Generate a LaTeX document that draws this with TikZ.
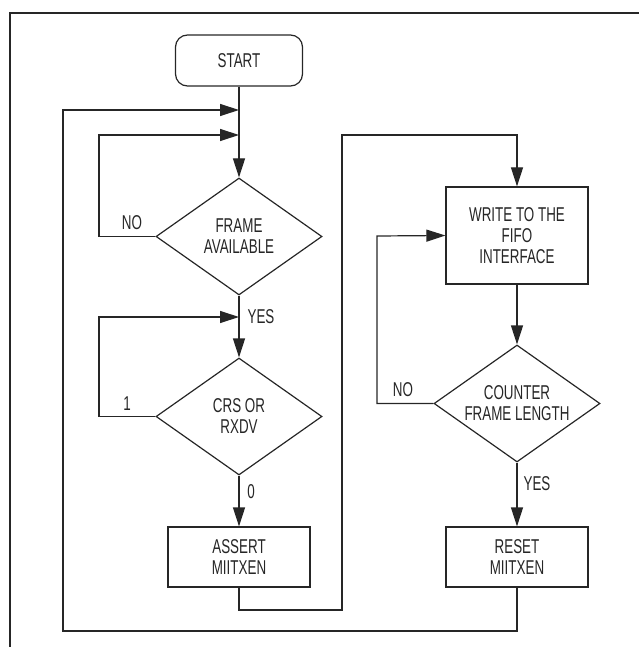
\documentclass[tikz,border=0pt]{standalone}
\usepackage{fontspec}
\setmainfont{Liberation Sans}[FakeStretch=0.67]
\usetikzlibrary{shapes.geometric,arrows.meta}
\begin{document}
\begin{tikzpicture}[x=1pt,y=-1pt,
  line width=1.2pt, draw=black!85,
  every node/.style={font=\fontsize{20}{21}\selectfont, align=center, text=black!85},
  arr/.style={-{Triangle[length=19pt,width=12pt]}},
  termbox/.style={draw, rounded corners=12pt, minimum width=127pt, minimum height=51pt, inner sep=0pt},
  procbox/.style={draw, minimum width=142pt, inner sep=0pt},
  decbox/.style={draw, diamond, aspect=1.42, minimum width=166pt, minimum height=117pt, inner sep=0pt},
  lbl/.style={inner sep=0pt}]
\useasboundingbox (0,0) rectangle (639,647);
\draw (10,647) -- (10,13) -- (639,13);

\node[termbox] (start) at (239,60.5) {START};
\node[decbox] (d1) at (239,236.5) {FRAME\\AVAILABLE};
\node[decbox] (d2) at (239,416.5) {CRS OR\\RXDV};
\node[procbox, minimum height=60pt] (assert) at (239,557) {ASSERT\\MIITXEN};
\node[procbox, minimum height=97pt] (write) at (517,235.5) {WRITE TO THE\\FIFO\\INTERFACE};
\node[decbox] (d3) at (517,403.5) {COUNTER\\FRAME LENGTH};
\node[procbox, minimum height=60pt] (reset) at (517,557) {RESET\\MIITXEN};

\coordinate (m1) at (239,110);
\coordinate (m2) at (239,135);
\coordinate (m3) at (239,317);
\coordinate (ob) at (63,631);
\coordinate (c1) at (99,135);
\coordinate (c2) at (99,317);
\coordinate (c3) at (342,610);
\coordinate (c4) at (342,135);
\coordinate (c5) at (377,236);

\draw[arr] (start) -- (d1);
\draw[arr] (reset.south) |- (ob) |- (m1);
\draw[arr] (d1.west) -| (c1) -- (m2);
\draw[arr] (d1) -- (d2);
\draw[arr] (d2.west) -| (c2) -- (m3);
\draw[arr] (d2) -- (assert);
\draw[arr] (assert.south) |- (c3) -- (c4) -| (write.north);
\draw[arr] (write) -- (d3);
\draw[arr] (d3.west) -| (c5) -- (write.west);
\draw[arr] (d3) -- (reset);

\node[lbl] (lno1) at (132,223) {NO};
\node[lbl] (lyes1) at (261,317) {YES};
\node[lbl] (lone) at (127,404) {1};
\node[lbl] (lzero) at (251,492) {0};
\node[lbl] (lno2) at (403,390) {NO};
\node[lbl] (lyes2) at (537,484) {YES};
\end{tikzpicture}
\end{document}
